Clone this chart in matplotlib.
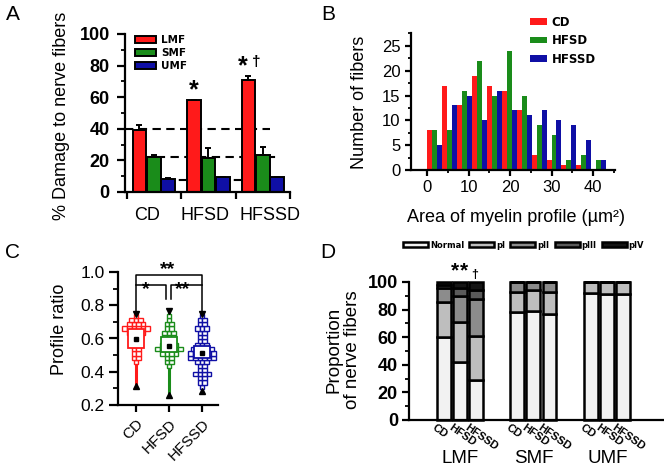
import matplotlib
matplotlib.use('Agg')
import matplotlib.pyplot as plt
import numpy as np
from matplotlib.patches import Rectangle, Patch
from matplotlib.ticker import MultipleLocator, FormatStrFormatter

plt.rcParams['font.family'] = ['Liberation Sans', 'DejaVu Sans']
plt.rcParams['axes.linewidth'] = 1.6
for a in ('xtick', 'ytick'):
    plt.rcParams[a + '.major.width'] = 1.6
    plt.rcParams[a + '.minor.width'] = 1.3
    plt.rcParams[a + '.major.size'] = 4
    plt.rcParams[a + '.minor.size'] = 2.5
    plt.rcParams[a + '.direction'] = 'out'

W, H = 664, 473
fig = plt.figure(figsize=(W / 100, H / 100), dpi=100)


def add_px_axes(l, t, r, b):
    ax = fig.add_axes([l / W, 1 - b / H, (r - l) / W, (b - t) / H])
    ax.spines['top'].set_visible(False)
    ax.spines['right'].set_visible(False)
    return ax


RED = '#ff1a1a'
GREEN = '#1a8c1a'
BLUE = '#0f0fa5'

# ---------------- Data ----------------
# Panel A
groups = ['CD', 'HFSD', 'HFSSD']
fiber_types = ['LMF', 'SMF', 'UMF']
damage_LMF = [39.2, 58.0, 70.8]
damage_SMF = [22.3, 21.3, 23.4]
damage_UMF = [8.2, 9.3, 9.3]
err_LMF = [3.0, 0.4, 2.6]
err_SMF = [1.4, 6.3, 5.3]
err_UMF = [0.4, 0.4, 0.4]
ref_levels = [40, 22, 7.6]

# Panel B
bin_left = [0.0, 3.6, 7.2, 10.8, 14.4, 18.0, 21.6, 25.2, 28.8, 32.4, 36.0, 39.6]
counts_CD = [8, 17, 13, 19, 17, 16, 12, 3, 2, 1, 1, 0]
counts_HFSD = [8, 8, 16, 22, 15, 24, 15, 9, 7, 2, 3, 2]
counts_HFSSD = [5, 13, 15, 10, 16, 12, 11, 12, 10, 9, 6, 2]

# Panel C
ratio_bins = [0.31, 0.335, 0.36, 0.385, 0.41, 0.435, 0.46, 0.485, 0.51, 0.535,
              0.56, 0.585, 0.61, 0.635, 0.66, 0.685, 0.71, 0.735]
ratio_counts_CD = [0, 0, 0, 0, 0, 0, 1, 2, 2, 2, 2, 2, 3, 4, 6, 4, 3, 1]
ratio_counts_HFSD = [0, 0, 0, 0, 0, 1, 2, 2, 4, 6, 4, 3, 3, 3, 2, 2, 1, 1]
ratio_counts_HFSSD = [1, 2, 2, 4, 2, 2, 3, 6, 6, 5, 3, 2, 2, 2, 3, 2, 2, 1]
ratio_q1 = [0.54, 0.52, 0.48]
ratio_q3 = [0.66, 0.61, 0.555]
ratio_mean = [0.60, 0.555, 0.515]
ratio_min = [0.315, 0.26, 0.285]
ratio_max = [0.745, 0.765, 0.75]

# Panel D
d_groups = ['LMF', 'SMF', 'UMF']
d_stages = ['Normal', 'pI', 'pII', 'pIII', 'pIV']
prop_Normal = [60, 42, 29, 78, 79, 77, 92, 91, 91]
prop_pI = [25.5, 29, 32, 14.5, 15, 15.5, 8, 9, 9]
prop_pII = [10, 19, 27, 7.5, 6, 7.5, 0, 0, 0]
prop_pIII = [2.5, 5.5, 6, 0, 0, 0, 0, 0, 0]
prop_pIV = [2, 4.5, 6, 0, 0, 0, 0, 0, 0]

# ---------------- Panel A ----------------
axA = add_px_axes(125, 34, 290, 192)
axA.set_xlim(-0.53, 2.5)
axA.set_ylim(0, 100)
xg = np.arange(len(groups))
off = 0.265
bw = 0.25
spans = [(-0.53, 2.13), (-0.2, 2.26), (0.2, 2.13)]
for lev, (x0, x1) in zip(ref_levels, spans):
    axA.plot([x0, x1], [lev, lev], color='k', lw=1.5, ls=(0, (4, 2.6)), zorder=1)
for k, (vals, errs, col) in enumerate([(damage_LMF, err_LMF, RED),
                                        (damage_SMF, err_SMF, GREEN),
                                        (damage_UMF, err_UMF, BLUE)]):
    xs = xg + (k - 1) * off
    axA.bar(xs, vals, width=bw, color=col, edgecolor='k', lw=1.4, zorder=2,
            label=fiber_types[k])
    axA.errorbar(xs, vals, yerr=[[0] * 3, errs], fmt='none', ecolor='k',
                 elinewidth=1.4, capsize=2.5, capthick=1.4, zorder=3)
axA.yaxis.set_major_locator(MultipleLocator(20))
axA.yaxis.set_minor_locator(MultipleLocator(10))
axA.tick_params(axis='y', which='major', length=6, pad=5)
axA.tick_params(axis='y', which='minor', length=3)
axA.set_xticks([-0.5, 0.5, 1.5, 2.5])
axA.set_xticklabels([])
axA.tick_params(axis='x', which='major', length=5)
axA.set_xticks([-0.13, 0.945, 2.13], minor=True)
axA.set_xticklabels(groups, minor=True, fontsize=13)
axA.tick_params(axis='x', which='minor', length=0, pad=11)
for t in axA.get_yticklabels():
    t.set_fontweight('bold')
    t.set_fontsize(13)
axA.set_ylabel('% Damage to nerve fibers', fontsize=13, ha='center', va='center')
axA.yaxis.set_label_coords((62 - 125) / 165, (192 - 116) / 158)
axA.text(1 - off, 57, '*', fontsize=18, fontweight='bold', ha='center', va='bottom')
axA.text(1.63, 72, '*', fontsize=18, fontweight='bold', ha='center', va='bottom')
axA.text(1.88, 78, '†', fontsize=11, fontweight='bold', ha='center', va='bottom')
axA.legend(loc='upper left', bbox_to_anchor=(135 / W, 1 - 35 / H),
           bbox_transform=fig.transFigure, frameon=False,
           prop={'family': 'DejaVu Sans', 'weight': 'bold', 'size': 7.5},
           handlelength=2.0, handleheight=0.6, handletextpad=0.5,
           labelspacing=0.3, borderpad=0, borderaxespad=0)

# ---------------- Panel B ----------------
axB = add_px_axes(411, 33, 615, 170)
axB.set_xlim(-3.86, 45.3)
axB.set_ylim(0, 27.6)
bl = np.array(bin_left)
sub = 1.2
for k, (cnt, col, lab) in enumerate([(counts_CD, RED, 'CD'),
                                      (counts_HFSD, GREEN, 'HFSD'),
                                      (counts_HFSSD, BLUE, 'HFSSD')]):
    axB.bar(bl + k * sub, cnt, width=sub, align='edge', color=col, lw=0, label=lab)
axB.xaxis.set_major_locator(MultipleLocator(10))
axB.xaxis.set_minor_locator(MultipleLocator(5))
axB.yaxis.set_major_locator(MultipleLocator(5))
axB.yaxis.set_minor_locator(MultipleLocator(2.5))
axB.tick_params(labelsize=12)
axB.set_xlabel('Area of myelin profile (µm²)', fontsize=13, ha='center', va='center')
axB.xaxis.set_label_coords((516 - 411) / 204, -(217 - 170) / 137)
axB.set_ylabel('Number of fibers', fontsize=13, ha='center', va='center')
axB.yaxis.set_label_coords((359 - 411) / 204, (170 - 102) / 137)
axB.legend(loc='upper left', bbox_to_anchor=(530 / W, 1 - 16 / H),
           bbox_transform=fig.transFigure, frameon=False,
           prop={'family': 'DejaVu Sans', 'weight': 'bold', 'size': 8.5},
           handlelength=1.45, handleheight=0.5, handletextpad=0.4,
           labelspacing=0.45, borderpad=0, borderaxespad=0)

# ---------------- Panel C ----------------
axC = add_px_axes(118, 272, 218, 405)
axC.set_xlim(-0.55, 2.48)
axC.set_ylim(0.2, 1.0)
sq_w, sq_h = 0.14, 0.025
for gi, (cnts, col) in enumerate([(ratio_counts_CD, RED),
                                   (ratio_counts_HFSD, GREEN),
                                   (ratio_counts_HFSSD, BLUE)]):
    axC.plot([gi, gi], [ratio_min[gi], ratio_max[gi]], color=col, lw=2.2, zorder=1)
    for yc, n in zip(ratio_bins, cnts):
        for j in range(n):
            xc = gi + (j - (n - 1) / 2) * sq_w
            axC.add_patch(Rectangle((xc - sq_w / 2, yc - sq_h / 2), sq_w, sq_h,
                                    facecolor='white', edgecolor=col, lw=1.0, zorder=2))
    bwid = 0.48
    axC.add_patch(Rectangle((gi - bwid / 2, ratio_q1[gi]), bwid,
                            ratio_q3[gi] - ratio_q1[gi], facecolor='white',
                            edgecolor=col, lw=1.3, zorder=3))
    axC.plot(gi, ratio_mean[gi], marker='s', ms=3.5, color='k', zorder=4)
    axC.plot(gi, ratio_max[gi], marker='v', ms=4.5, color='k', zorder=4)
    axC.plot(gi, ratio_min[gi], marker='^', ms=4.5, color='k', zorder=4)
# significance brackets
axC.plot([0, 0, 2, 2], [0.755, 0.98, 0.98, 0.755], color='k', lw=1.1)
axC.plot([0, 0.9, 0.9], [0.924, 0.924, 0.84], color='k', lw=1.1)
axC.plot([1.05, 1.05, 2.0], [0.84, 0.924, 0.924], color='k', lw=1.1)
axC.text(0.95, 0.965, '**', fontsize=14, fontweight='bold', ha='center', va='bottom')
axC.text(0.3, 0.845, '*', fontsize=14, fontweight='bold', ha='center', va='bottom')
axC.text(1.4, 0.845, '**', fontsize=14, fontweight='bold', ha='center', va='bottom')
axC.yaxis.set_major_locator(MultipleLocator(0.2))
axC.yaxis.set_minor_locator(MultipleLocator(0.1))
axC.tick_params(axis='y', which='major', length=6.5, pad=3)
axC.tick_params(axis='y', which='minor', length=3.5)
axC.tick_params(axis='x', which='major', length=5)
axC.set_xticks([0, 1, 2])
axC.set_xticklabels(groups, rotation=45, ha='right', rotation_mode='anchor', fontsize=11)
axC.tick_params(axis='y', labelsize=12.5)
axC.yaxis.set_major_formatter(FormatStrFormatter('%.1f'))
axC.set_ylabel('Profile ratio', fontsize=13, ha='center', va='center')
axC.yaxis.set_label_coords((59 - 118) / 100, (405 - 329) / 133)

# ---------------- Panel D ----------------
axD = add_px_axes(409, 282, 664, 420)
axD.set_xlim(-2.16, 13.75)
axD.set_ylim(0, 100)
xD = np.array([0, 1, 2, 4.6, 5.6, 6.6, 9.2, 10.2, 11.2])
stage_colors = ['#f2f2f2', '#bebebe', '#8c8c8c', '#5a5a5a', '#151515']
bottom = np.zeros(len(xD))
for st, vals, col in zip(d_stages, [prop_Normal, prop_pI, prop_pII, prop_pIII, prop_pIV],
                         stage_colors):
    v = np.array(vals, dtype=float)
    axD.bar(xD, v, bottom=bottom, width=0.86, color=col, edgecolor='k', lw=1.8,
            label=st, clip_on=False)
    bottom += v
axD.set_xticks([])
axD.yaxis.set_major_locator(MultipleLocator(20))
axD.yaxis.set_minor_locator(MultipleLocator(10))
axD.tick_params(axis='y', which='major', length=5, pad=3)
axD.tick_params(axis='y', which='minor', length=3)
for t in axD.get_yticklabels():
    t.set_fontweight('bold')
    t.set_fontsize(13)
for i, x in enumerate(xD):
    axD.text(x - 0.45, -1.5, groups[i % 3], rotation=-35, ha='left', va='top',
             rotation_mode='anchor', fontsize=8, fontweight='bold')
for g, name in enumerate(d_groups):
    axD.text(g * 4.6 + 1.05, -28, name, fontsize=13.5, ha='center', va='center')
axD.text(0.72, 101, '*', fontsize=15, fontweight='bold', ha='center', va='bottom', clip_on=False)
axD.text(1.25, 101, '*', fontsize=15, fontweight='bold', ha='center', va='bottom', clip_on=False)
axD.text(1.95, 101, '†', fontsize=9, fontweight='bold', ha='center', va='bottom', clip_on=False)
axD.set_ylabel('Proportion\nof nerve fibers', fontsize=13.5, ha='center', va='center',
               linespacing=1.1)
axD.yaxis.set_label_coords((343 - 409) / 255, (420 - 350) / 138)
axD.legend(loc='center left', bbox_to_anchor=(403 / W, 1 - 245 / H),
           bbox_transform=fig.transFigure, frameon=False, ncol=5,
           prop={'family': 'DejaVu Sans', 'weight': 'bold', 'size': 6},
           handlelength=3.0, handleheight=0.7, handletextpad=0.25,
           columnspacing=0.6, borderpad=0, borderaxespad=0)

# ---------------- Panel letters ----------------
for letter, x, y in [('A', 13, 14), ('B', 328, 14), ('C', 12, 253), ('D', 328, 253)]:
    fig.text(x / W, 1 - y / H, letter, fontsize=15, ha='center', va='center')

fig.savefig('out.png', dpi=100)
